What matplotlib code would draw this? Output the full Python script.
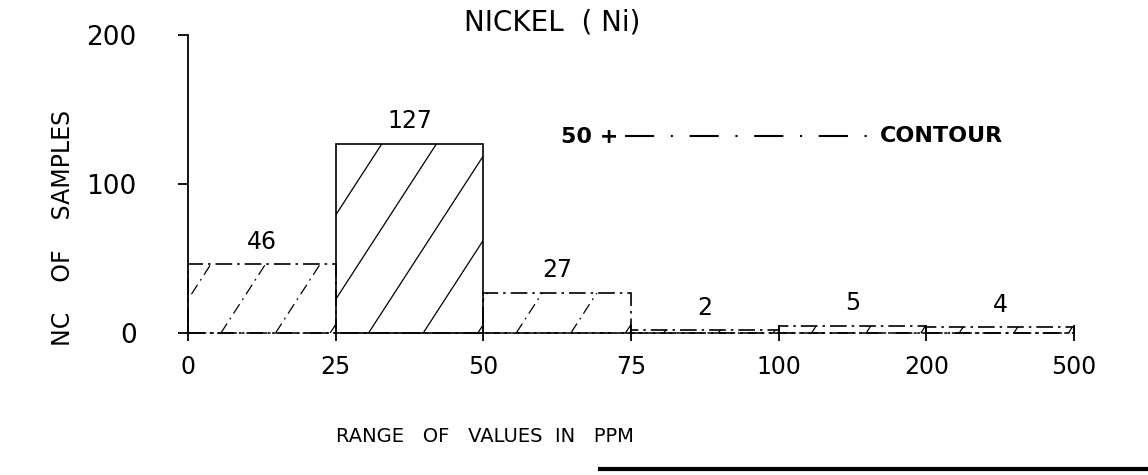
import numpy as np
import matplotlib.pyplot as plt
from matplotlib.lines import Line2D

# histogram data
bin_edges = ['0', '25', '50', '75', '100', '200', '500']
counts = [46, 127, 27, 2, 5, 4]
solid_bars = [False, True, False, False, False, False]

W, H = 1148, 475
fig = plt.figure(figsize=(W / 100, H / 100), dpi=100)
ax = fig.add_axes([188 / W, 142 / H, 886 / W, 298 / H])
ax.set_xlim(0, 6)
ax.set_ylim(0, 200)

pos = np.arange(len(counts))
bars = ax.bar(pos, counts, width=1.0, align='edge', fill=False,
              edgecolor='black', linewidth=1.2, clip_on=False)

# hatch lines, spaced out and steeper than matplotlib's own hatch
slope = 153.0   # counts per bin unit
spacing = 0.37
for i, (b, h) in enumerate(zip(bars, counts)):
    if not solid_bars[i]:
        b.set_linestyle((0, (10, 3, 1.5, 3)))
    ls = '-' if solid_bars[i] else (0, (9, 4, 1.5, 4))
    for c in np.arange(i - 200 / slope + 0.05, i + 1, spacing):
        xs = np.array([c, c + 200 / slope])
        ys = slope * (xs - c)
        ln, = ax.plot(xs, ys, color='black', lw=0.9, ls=ls)
        ln.set_clip_path(b)

# value labels
for i, h in enumerate(counts):
    ax.text(i + 0.5, h + 7, str(h), ha='center', va='bottom',
            fontsize=17, color='black')

# axes styling
for s in ['top', 'right', 'bottom']:
    ax.spines[s].set_visible(False)
ax.spines['left'].set_linewidth(1.3)
ax.axhline(0, color='black', lw=1.1, ls=(0, (12, 3, 2, 3)), clip_on=False)

ax.set_xticks(np.arange(len(bin_edges)))
ax.set_xticklabels(bin_edges)
ax.set_yticks([0, 100, 200])
ax.set_yticklabels(['0', '100', '200'])
ax.tick_params(axis='x', direction='inout', length=12, width=1.3,
               labelsize=17, pad=10)
ax.tick_params(axis='y', direction='out', length=7, width=1.3,
               labelsize=19, pad=30)

fig.text(63 / W, 1 - 228 / H, 'NC    OF    SAMPLES', rotation=90,
         ha='center', va='center', fontsize=17)
fig.text(485 / W, 1 - 437 / H, 'RANGE   OF   VALUES  IN   PPM',
         ha='center', va='center', fontsize=14)
fig.text(552 / W, 1 - 22 / H, 'NICKEL  ( Ni)', ha='center', va='center',
         fontsize=20, fontweight='medium')

# legend-like annotation
fig.text(561 / W, 1 - 137 / H, '50 +', ha='left', va='center',
         fontsize=16, fontweight='bold')
fig.add_artist(Line2D([625 / W, 870 / W], [1 - 136 / H, 1 - 136 / H],
                      color='black', lw=1.5, ls=(0, (14, 8, 1, 8))))
fig.text(880 / W, 1 - 136 / H, 'CONTOUR', ha='left', va='center',
         fontsize=16, fontweight='bold')

# scan edge along the bottom
fig.add_artist(Line2D([600 / W, 1.0], [6 / H, 6 / H], color='black', lw=3))

fig.savefig('out.png', dpi=100)
